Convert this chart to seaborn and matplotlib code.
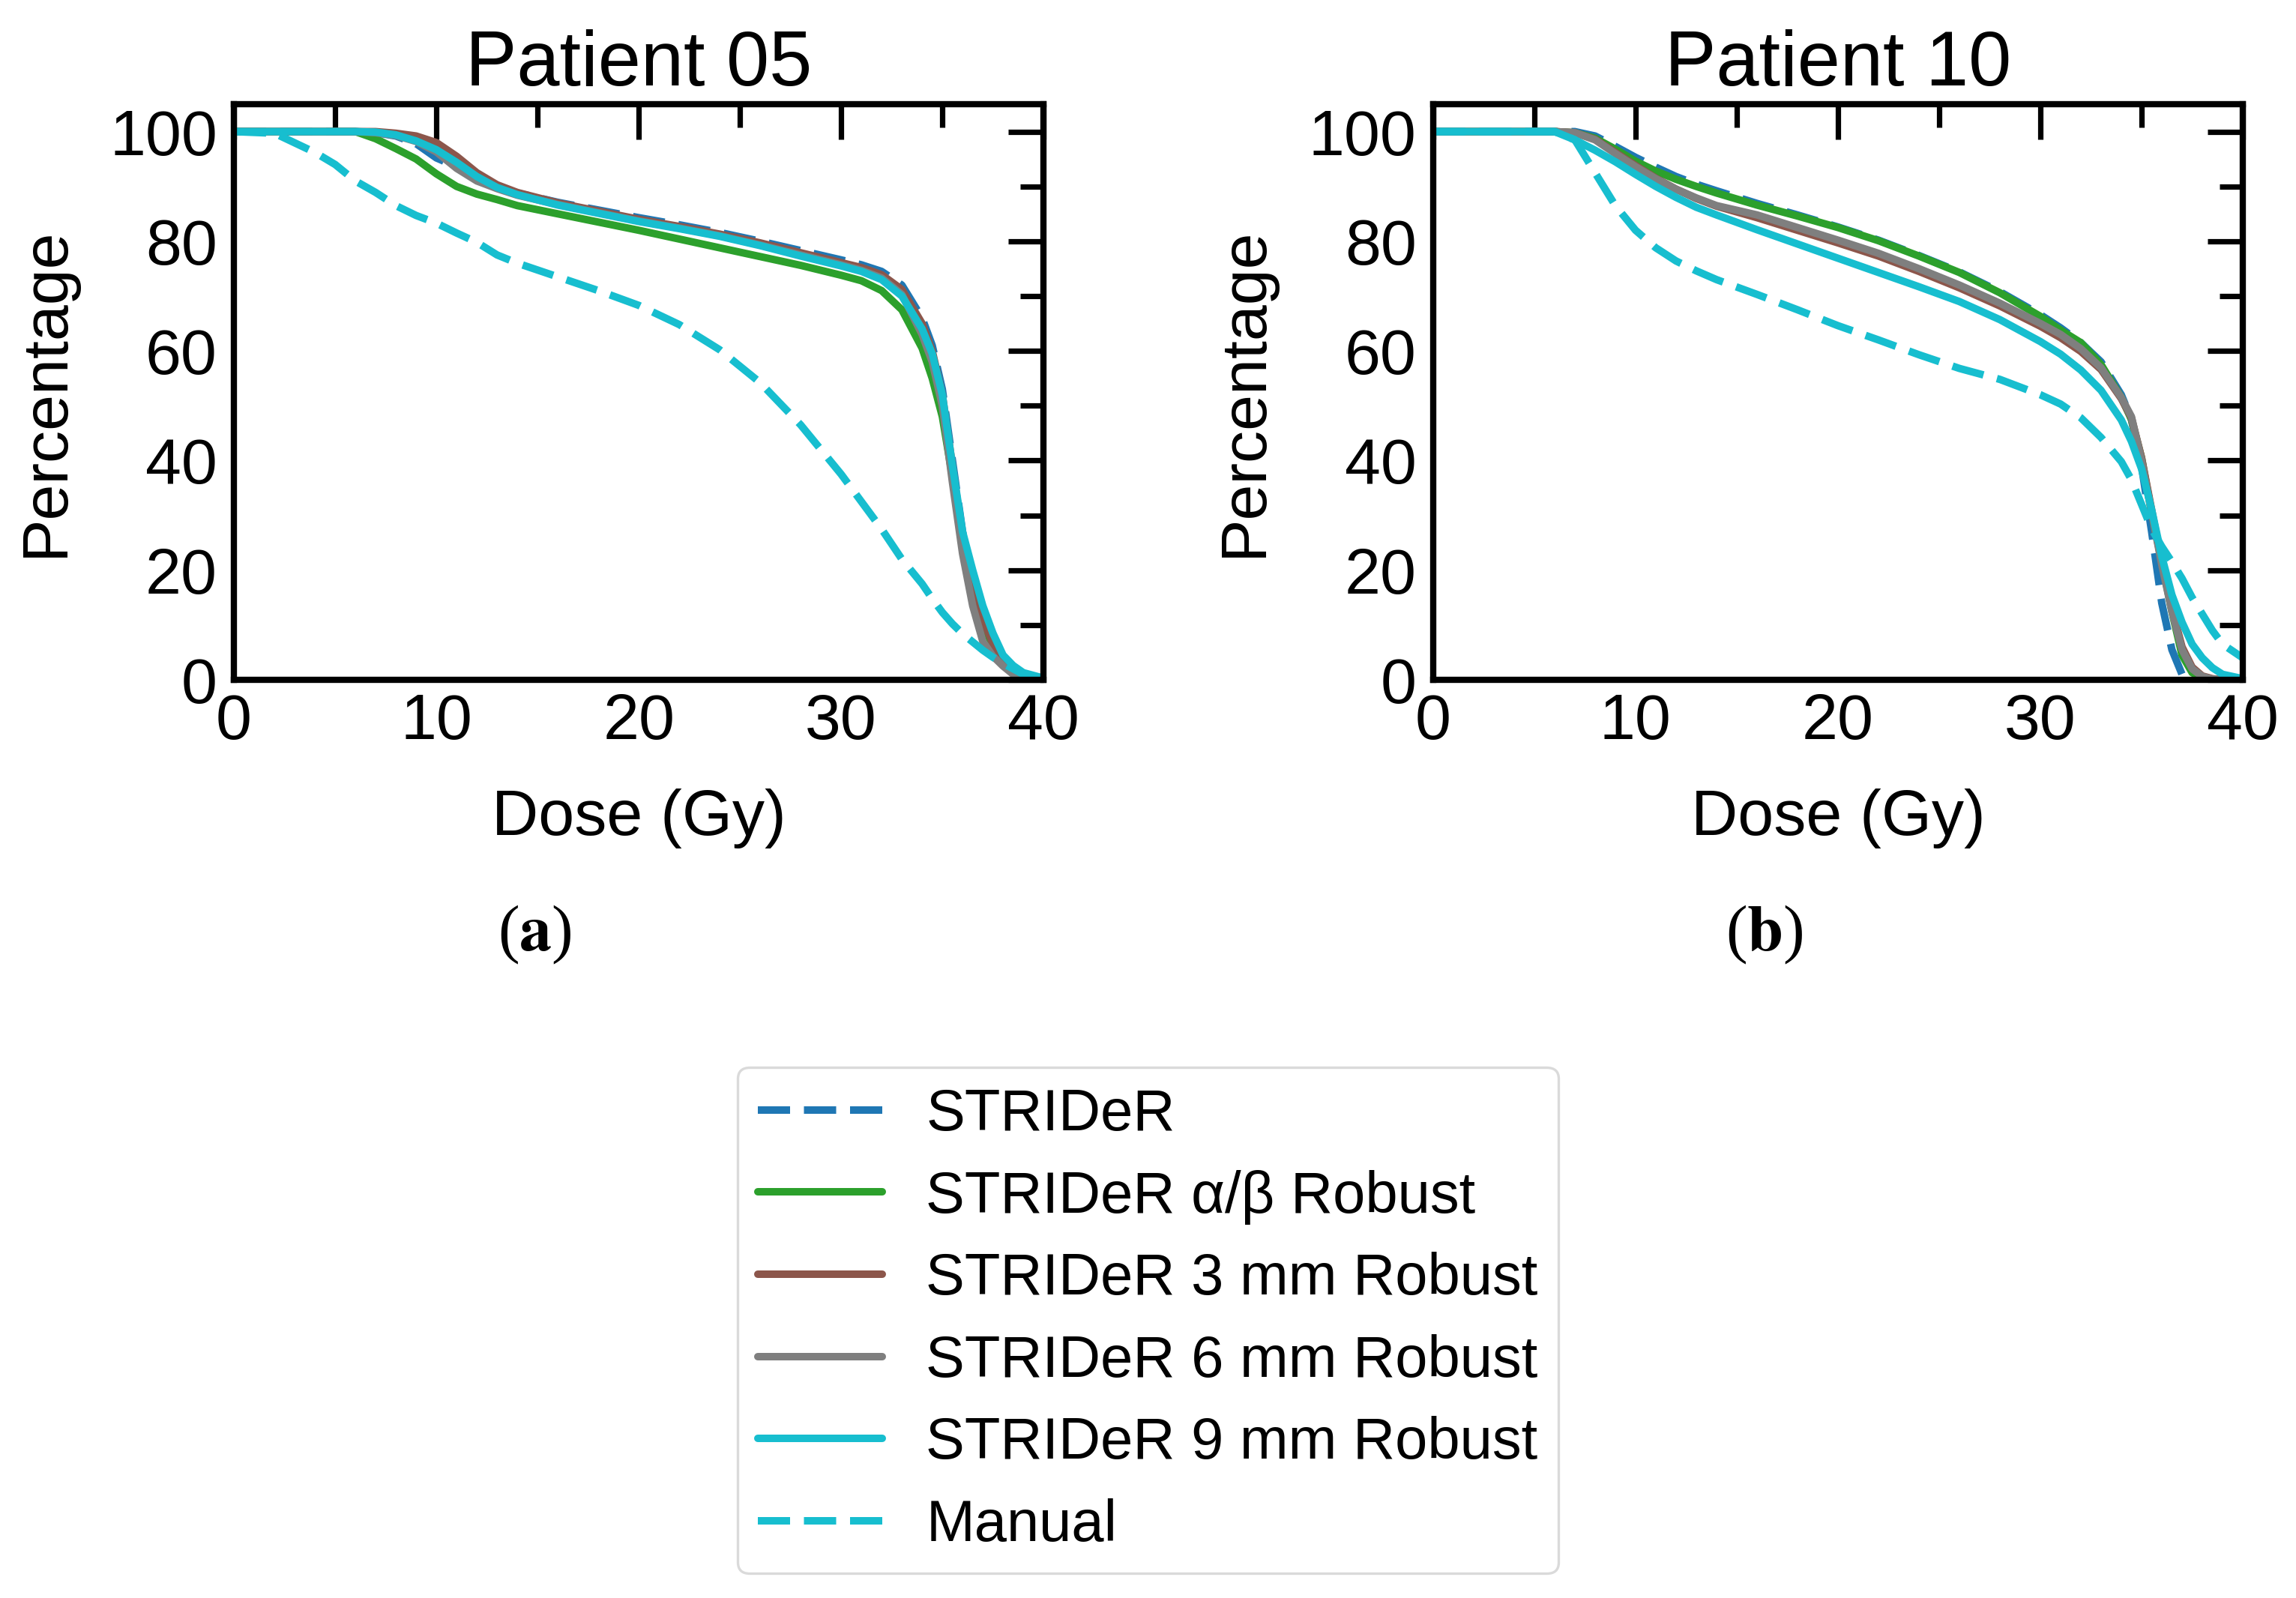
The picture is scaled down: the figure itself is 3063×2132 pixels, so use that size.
import matplotlib
matplotlib.use("Agg")
import matplotlib.pyplot as plt
import numpy as np
import pandas as pd
import seaborn as sns
from matplotlib.ticker import MultipleLocator
from matplotlib.lines import Line2D

# ---------------- data ----------------
SERIES = ["STRIDeR", "STRIDeR α/β Robust", "STRIDeR 3 mm Robust",
          "STRIDeR 6 mm Robust", "STRIDeR 9 mm Robust", "Manual"]

# Patient 05
DOSE_05 = [0, 2, 4, 5, 6, 7, 8, 9, 10, 11, 12, 13, 14, 16, 18, 20, 22, 24, 26, 28,
           30, 31, 32, 33, 34, 34.5, 35, 35.5, 36, 36.5, 37, 37.5, 38, 38.5, 39, 40]
P05_STRIDER = [100, 100, 100, 100, 100, 99.8, 99.2, 97.8, 95.2, 93.6, 91.8, 90.0, 88.8,
               87.1, 85.7, 84.3, 83.0, 81.6, 80.0, 78.3, 76.6, 75.7, 74.5, 72.0, 66.0,
               61.0, 53.0, 40.0, 27.0, 19.0, 12.0, 7.0, 3.5, 1.5, 0.5, 0]
P05_AB = [100, 100, 100, 100, 100, 98.7, 96.9, 95.0, 92.3, 90.0, 88.6, 87.6, 86.5,
          85.0, 83.5, 82.0, 80.4, 78.8, 77.2, 75.6, 73.8, 72.8, 71.0, 67.5, 60.5,
          55.0, 48.0, 37.0, 25.0, 17.0, 10.5, 6.0, 3.0, 1.3, 0.4, 0]
P05_3MM = [100, 100, 100, 100, 100, 100, 99.7, 99.2, 98.0, 95.5, 92.5, 90.3, 88.9,
           87.0, 85.5, 84.0, 82.7, 81.3, 79.7, 77.9, 76.1, 75.2, 73.9, 71.2, 65.0,
           60.0, 52.0, 39.0, 26.0, 18.0, 11.0, 6.5, 3.2, 1.4, 0.4, 0]
P05_6MM = [100, 100, 100, 100, 100, 99.8, 99.3, 98.2, 96.3, 93.3, 91.0, 89.6, 88.4,
           86.7, 85.2, 83.7, 82.4, 81.0, 79.3, 77.5, 75.7, 74.7, 73.3, 70.3, 63.0,
           58.0, 50.0, 36.0, 23.0, 13.5, 7.0, 4.3, 2.5, 1.0, 0.2, 0]
P05_9MM = [100, 100, 100, 100, 100, 99.9, 99.4, 98.3, 96.7, 94.4, 91.8, 89.8, 88.5,
           86.6, 85.1, 83.6, 82.3, 80.9, 79.2, 77.3, 75.5, 74.5, 73.0, 70.0, 64.0,
           59.5, 52.0, 39.0, 27.0, 20.0, 13.5, 8.5, 4.5, 2.6, 1.3, 0.3]
P05_MANUAL = [100, 99.7, 96.2, 94.0, 91.0, 88.9, 86.5, 84.7, 83.3, 81.5, 79.8, 77.5,
              76.0, 73.5, 71.0, 68.3, 64.8, 60.2, 54.2, 46.5, 37.5, 32.5, 27.5, 22.0,
              17.5, 14.8, 12.3, 10.2, 8.4, 6.9, 5.4, 4.1, 3.0, 2.0, 1.0, 0]

# Patient 10
DOSE_10 = [0, 2, 4, 6, 7, 8, 9, 10, 11, 12, 13, 14, 16, 18, 20, 22, 24, 26, 28, 30,
           31, 32, 33, 34, 34.5, 35, 35.5, 36, 36.5, 37, 37.5, 38, 38.5, 39, 40]
P10_STRIDER = [100, 100, 100, 100, 100, 99.2, 97.3, 95.3, 93.5, 91.8, 90.4, 89.2,
               86.9, 84.8, 82.6, 80.2, 77.4, 74.4, 70.8, 66.6, 64.2, 61.5, 58.0, 52.0,
               47.5, 39.0, 27.0, 14.0, 5.5, 1.0, 0.2, 0, 0, 0, 0]
P10_AB = [100, 100, 100, 100, 99.8, 98.8, 96.8, 94.6, 92.8, 91.3, 90.0, 88.8, 86.6,
          84.6, 82.5, 80.1, 77.3, 74.3, 70.6, 66.3, 63.8, 61.5, 57.5, 51.5, 47.5,
          40.5, 30.5, 21.5, 12.5, 4.5, 1.3, 0.3, 0, 0, 0]
P10_3MM = [100, 100, 100, 100, 99.8, 98.6, 96.2, 93.8, 91.5, 89.5, 87.8, 86.4, 84.3,
           82.0, 79.7, 77.3, 74.5, 71.5, 68.2, 64.5, 62.4, 59.9, 56.6, 51.3, 47.8,
           40.5, 31.0, 21.5, 13.0, 6.0, 2.3, 0.7, 0.2, 0, 0]
P10_6MM = [100, 100, 100, 100, 99.8, 98.5, 96.0, 93.6, 91.4, 89.5, 87.9, 86.5, 84.8,
           82.5, 80.2, 77.8, 75.0, 72.0, 68.7, 65.0, 63.0, 60.4, 56.9, 51.5, 48.0,
           40.0, 30.5, 21.0, 12.5, 5.5, 2.0, 0.6, 0.1, 0, 0]
P10_9MM = [100, 100, 100, 100, 98.5, 96.6, 94.5, 92.2, 90.0, 88.0, 86.2, 84.8, 82.1,
           79.5, 76.9, 74.3, 71.7, 69.0, 65.7, 61.7, 59.4, 56.5, 52.8, 47.4, 43.5,
           38.5, 31.0, 22.5, 15.5, 10.5, 6.5, 4.0, 2.2, 1.0, 0.2]
P10_MANUAL = [100, 100, 100, 100, 98.5, 92.5, 86.5, 82.0, 78.8, 76.4, 74.6, 73.0,
              70.3, 67.5, 64.6, 62.0, 59.3, 56.8, 54.8, 52.0, 50.3, 47.8, 44.2, 39.8,
              36.5, 32.0, 27.5, 24.3, 21.5, 18.5, 15.0, 12.0, 9.0, 6.5, 4.0]

PANEL_TITLES = ["Patient 05", "Patient 10"]
PANEL_TAGS = ["a", "b"]

# ---------------- styles ----------------
COLORS = ["#1f77b4", "#2ca02c", "#8c564b", "#7f7f7f", "#17becf", "#17becf"]
IS_DASHED = [True, False, False, False, False, True]
DASH = (4.3, 1.85)
LW = 3.6


def long_frame(dose, series_values):
    rows = []
    for name, vals in zip(SERIES, series_values):
        for d, v in zip(dose, vals):
            rows.append({"Dose": d, "Pct": v, "Plan": name})
    return pd.DataFrame(rows)


df05 = long_frame(DOSE_05, [P05_STRIDER, P05_AB, P05_3MM, P05_6MM, P05_9MM, P05_MANUAL])
df10 = long_frame(DOSE_10, [P10_STRIDER, P10_AB, P10_3MM, P10_6MM, P10_9MM, P10_MANUAL])

sns.set_style("white")
plt.rcParams["font.family"] = ["Liberation Sans", "DejaVu Sans"]
plt.rcParams["mathtext.fontset"] = "stix"
plt.rcParams["text.color"] = "black"

fig = plt.figure(figsize=(3063 / 200, 2132 / 200), dpi=200)
fig.patch.set_facecolor("white")

axes_rects = [[0.1019, 0.5746, 0.3526, 0.3602], [0.6242, 0.5746, 0.3526, 0.3602]]
palette = dict(zip(SERIES, COLORS))
dashes = {s: (DASH if dd else "") for s, dd in zip(SERIES, IS_DASHED)}

for rect, df, title, tag in zip(axes_rects, [df05, df10], PANEL_TITLES, PANEL_TAGS):
    ax = fig.add_axes(rect)
    sns.lineplot(data=df, x="Dose", y="Pct", hue="Plan", hue_order=SERIES,
                 style="Plan", style_order=SERIES, palette=palette, dashes=dashes,
                 estimator=None, linewidth=LW, legend=False, ax=ax)
    ax.set_xlim(0, 40)
    ax.set_ylim(0, 105)
    ax.xaxis.set_major_locator(MultipleLocator(10))
    ax.xaxis.set_minor_locator(MultipleLocator(5))
    ax.yaxis.set_major_locator(MultipleLocator(20))
    ax.yaxis.set_minor_locator(MultipleLocator(10))
    ax.tick_params(which="both", direction="in", top=True, right=True,
                   width=2.6, color="black", labelsize=31, labelcolor="black")
    ax.tick_params(which="major", length=17)
    ax.tick_params(which="minor", length=11)
    ax.tick_params(axis="x", pad=6)
    ax.tick_params(axis="y", pad=8)
    for sp in ax.spines.values():
        sp.set_linewidth(3)
        sp.set_color("black")
        sp.set_visible(True)
    ax.set_title(title, fontsize=37, pad=9, color="black")
    ax.set_xlabel("Dose (Gy)", fontsize=31, color="black")
    ax.set_ylabel("Percentage", fontsize=31, color="black")
    ax.xaxis.set_label_coords(0.5, -0.189)
    ax.yaxis.set_label_coords(-0.195, 0.5)
    ax.grid(False)

# panel tags
for x, tag in zip([0.233, 0.7685], PANEL_TAGS):
    fig.text(x, 0.415, "($\\mathbf{" + tag + "}$)", fontsize=31, ha="center", va="center",
             family=["Liberation Serif", "DejaVu Serif"], color="black")

handles = [Line2D([], [], color=c, lw=LW, linestyle=((0, DASH) if dd else "-"))
           for c, dd in zip(COLORS, IS_DASHED)]
leg = fig.legend(handles, SERIES, loc="center", bbox_to_anchor=(0.5, 0.1738),
                 fontsize=28, handlelength=2.13, handletextpad=0.75, borderpad=0.35,
                 labelspacing=0.47, frameon=True, fancybox=True, labelcolor="black")
leg.get_frame().set_edgecolor("0.82")
leg.get_frame().set_linewidth(1.2)

fig.savefig("out.png", dpi=200, facecolor="white")
